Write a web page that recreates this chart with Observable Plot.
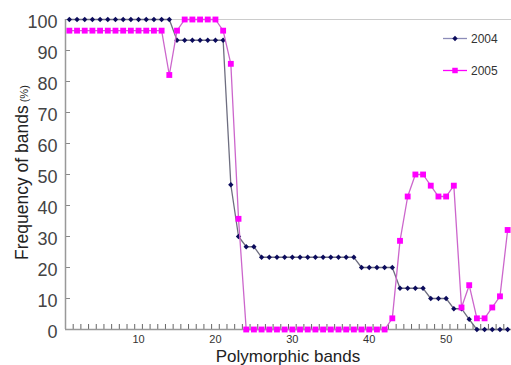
<!DOCTYPE html>
<html><head><meta charset="utf-8">
<script src="https://cdn.jsdelivr.net/npm/d3@7"></script>
<script src="https://cdn.jsdelivr.net/npm/@observablehq/plot@0.6"></script>
<style>
body{margin:0;background:#fff;}
#chart{position:relative;width:511px;height:365px;overflow:hidden;}
</style></head><body><div id="chart"></div>
<script>
const bands = [1,2,3,4,5,6,7,8,9,10,11,12,13,14,15,16,17,18,19,20,21,22,23,24,25,26,27,28,29,30,
  31,32,33,34,35,36,37,38,39,40,41,42,43,44,45,46,47,48,49,50,51,52,53,54,55,56,57,58];
const freq2004 = [100,100,100,100,100,100,100,100,100,100,100,100,100,100,
  93.3,93.3,93.3,93.3,93.3,93.3,93.3,46.7,30,26.7,26.7,
  23.3,23.3,23.3,23.3,23.3,23.3,23.3,23.3,23.3,23.3,23.3,23.3,23.3,
  20,20,20,20,20,13.3,13.3,13.3,13.3,10,10,10,6.7,6.7,3.3,0,0,0,0,0];
const freq2005 = [96.4,96.4,96.4,96.4,96.4,96.4,96.4,96.4,96.4,96.4,96.4,96.4,96.4,
  82.1,96.4,100,100,100,100,100,96.4,85.7,35.7,
  0,0,0,0,0,0,0,0,0,0,0,0,0,0,0,0,0,0,0,
  3.6,28.6,42.9,50,50,46.4,42.9,42.9,46.4,7.1,14.3,3.6,3.6,7.1,10.7,32.1];
const seriesNames = ["2004","2005"];
const yTicks = [0,10,20,30,40,50,60,70,80,90,100];
const xLabelTicks = [10,20,30,40,50];
const xMinorTicks = [1.5,2.5,3.5,4.5,5.5,6.5,7.5,8.5,9.5,10.5,11.5,12.5,13.5,14.5,15.5,16.5,17.5,18.5,19.5,20.5,
  21.5,22.5,23.5,24.5,25.5,26.5,27.5,28.5,29.5,30.5,31.5,32.5,33.5,34.5,35.5,36.5,37.5,38.5,39.5,40.5,
  41.5,42.5,43.5,44.5,45.5,46.5,47.5,48.5,49.5,50.5,51.5,52.5,53.5,54.5,55.5,56.5,57.5];

const d2004 = bands.map((b,i)=>({band:b, value:freq2004[i], year:seriesNames[0]}));
const d2005 = bands.map((b,i)=>({band:b, value:freq2005[i], year:seriesNames[1]}));

const W = 511, H = 365, mL = 65, mR = 0, mT = 19, mB = 36;
const pw = W - mL - mR, ph = H - mT - mB;
const c04line = "#6e6e80", c04dot = "#0b0b5c", c05line = "#cc66cc", c05dot = "#ff00ff";

const plot = Plot.plot({
  width: W, height: H,
  marginLeft: mL, marginRight: mR, marginTop: mT, marginBottom: mB,
  x: {domain: [0.5, 58.5], axis: null},
  y: {domain: [0, 100], axis: null},
  style: {fontFamily: "'Liberation Sans', Arial, sans-serif", background: "#fff"},
  marks: [
    Plot.frame({stroke: "#cccccc"}),
    Plot.ruleX(xMinorTicks, {x: d=>d, insetTop: ph - 5, stroke: "#666", strokeWidth: 1}),
    Plot.ruleY(yTicks, {y: d=>d, insetRight: pw - 5, stroke: "#888", strokeWidth: 1}),
    Plot.ruleY([0], {stroke: "#999", strokeWidth: 1.5}),
    Plot.ruleX([0.5], {stroke: "#999", strokeWidth: 1.5}),
    Plot.text(yTicks, {y: d=>d, text: d=>String(d), frameAnchor: "left", textAnchor: "end", dx: -8, dy: 3,
      fontSize: 18, fontFamily: "'Liberation Sans Narrow', 'Liberation Sans', sans-serif", fill: "#444"}),
    Plot.text(xLabelTicks, {x: d=>d, text: d=>String(d), frameAnchor: "bottom", lineAnchor: "middle", dy: 10,
      fontSize: 11, fill: "#333"}),
    Plot.line(d2004, {x: "band", y: "value", stroke: c04line, strokeWidth: 1.3}),
    Plot.dot(d2004, {x: "band", y: "value", symbol: "diamond2", r: 2.4, fill: c04dot, stroke: "none"}),
    Plot.line(d2005, {x: "band", y: "value", stroke: c05line, strokeWidth: 1.3}),
    Plot.dot(d2005, {x: "band", y: "value", symbol: "square", r: 3.3, fill: c05dot, stroke: "none"})
  ]
});
document.getElementById("chart").appendChild(plot);

const svg = d3.select(plot);
// axis titles
svg.append("text").attr("x", 288).attr("y", 362).attr("text-anchor", "middle")
  .attr("font-size", 17).attr("font-family", "'Liberation Sans', Arial, sans-serif").attr("fill", "#222")
  .text("Polymorphic bands");
const yt = svg.append("text").attr("transform", "translate(27.5,260) rotate(-90)").attr("text-anchor", "start")
  .attr("font-family", "'Liberation Sans', Arial, sans-serif").attr("fill", "#222");
yt.append("tspan").attr("font-size", 17.5).text("Frequency of bands");
yt.append("tspan").attr("font-size", 11).attr("dx", 3).text("(%)");

// legend
const legend = [
  {name: seriesNames[0], y: 38.5, line: "#8c8cb8", fill: c04dot, sym: d3.symbolDiamond2, size: 18},
  {name: seriesNames[1], y: 70.5, line: c05dot, fill: c05dot, sym: d3.symbolSquare, size: 30}
];
for (const l of legend) {
  const g = svg.append("g");
  g.append("line").attr("x1", 443).attr("x2", 467).attr("y1", l.y).attr("y2", l.y)
    .attr("stroke", l.line).attr("stroke-width", 1.3);
  g.append("path").attr("d", d3.symbol(l.sym, l.size)()).attr("transform", `translate(455,${l.y})`)
    .attr("fill", l.fill);
  g.append("text").attr("x", 471).attr("y", l.y).attr("dy", "0.35em").attr("font-size", 12)
    .attr("text-anchor", "start")
    .attr("font-family", "'Liberation Sans', Arial, sans-serif").attr("fill", "#333").text(l.name);
}
</script></body></html>
